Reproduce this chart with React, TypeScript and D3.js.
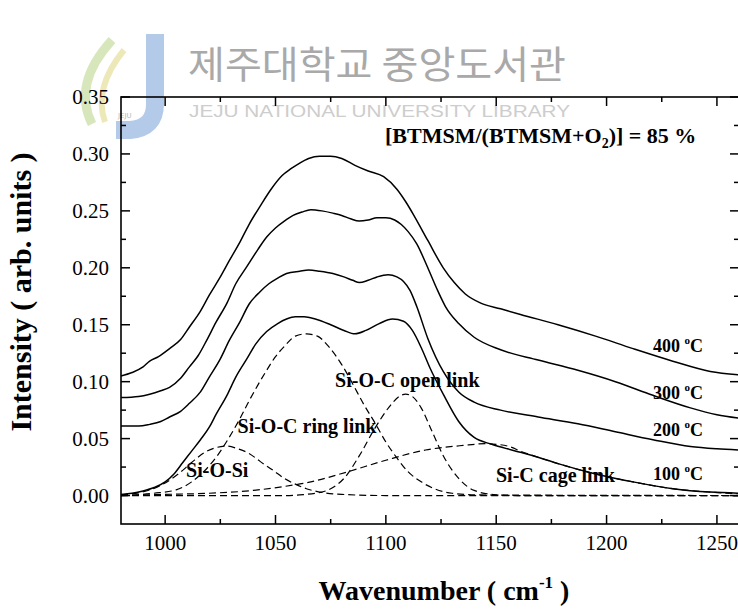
import React from 'react';
import * as d3 from 'd3';

const WIDTH = 738;
const HEIGHT = 610;

const X_DOMAIN: [number, number] = [980, 1260];
const Y_DOMAIN: [number, number] = [-0.025, 0.35];
const X_TICKS = [1000, 1050, 1100, 1150, 1200, 1250];
const X_MINOR = [1025, 1075, 1125, 1175, 1225];
const Y_TICKS = [0, 0.05, 0.1, 0.15, 0.2, 0.25, 0.3, 0.35];
const Y_MINOR = [0.025, 0.075, 0.125, 0.175, 0.225, 0.275, 0.325];

// Measured spectra [wavenumber, intensity]
const T400: [number, number][] = [[980,0.105],[985,0.108],[990,0.113],[993,0.118],[997,0.122],[1002,0.129],[1007,0.137],[1011,0.148],[1016,0.162],[1020,0.176],[1025,0.192],[1029,0.206],[1034,0.223],[1038,0.238],[1043,0.254],[1048,0.269],[1053,0.281],[1057,0.287],[1061,0.292],[1065,0.296],[1070,0.298],[1075,0.298],[1080,0.296],[1086,0.290],[1092,0.285],[1099,0.280],[1105,0.269],[1109,0.258],[1113,0.245],[1119,0.224],[1126,0.200],[1131,0.187],[1136,0.177],[1143,0.169],[1152,0.164],[1161,0.159],[1178,0.150],[1195,0.140],[1212,0.129],[1230,0.118],[1247,0.109],[1260,0.106]];
const T300: [number, number][] = [[980,0.086],[988,0.087],[993,0.089],[998,0.092],[1002,0.095],[1007,0.103],[1011,0.113],[1015,0.123],[1019,0.137],[1023,0.152],[1028,0.169],[1032,0.186],[1037,0.201],[1042,0.216],[1046,0.227],[1050,0.235],[1054,0.241],[1058,0.246],[1062,0.249],[1066,0.251],[1071,0.250],[1076,0.248],[1080,0.246],[1084,0.243],[1088,0.241],[1092,0.242],[1096,0.244],[1100,0.244],[1104,0.242],[1107,0.238],[1110,0.232],[1114,0.221],[1119,0.200],[1123,0.182],[1127,0.166],[1133,0.151],[1140,0.139],[1152,0.128],[1169,0.119],[1187,0.110],[1204,0.100],[1221,0.088],[1238,0.077],[1250,0.071],[1260,0.068]];
const T200: [number, number][] = [[980,0.061],[988,0.061],[993,0.0625],[998,0.065],[1002,0.069],[1007,0.074],[1011,0.081],[1016,0.091],[1020,0.104],[1025,0.120],[1029,0.136],[1034,0.153],[1038,0.168],[1043,0.179],[1047,0.186],[1051,0.191],[1055,0.195],[1061,0.197],[1065,0.198],[1070,0.197],[1076,0.195],[1081,0.192],[1085,0.189],[1088,0.187],[1092,0.189],[1096,0.192],[1101,0.194],[1105,0.192],[1108,0.188],[1111,0.180],[1114,0.166],[1119,0.138],[1126,0.109],[1133,0.091],[1140,0.082],[1152,0.075],[1169,0.069],[1187,0.063],[1204,0.056],[1221,0.049],[1238,0.043],[1250,0.041],[1260,0.040]];
const T100: [number, number][] = [[980,0.001],[985,0.002],[990,0.004],[995,0.007],[1000,0.012],[1004,0.019],[1008,0.029],[1012,0.039],[1016,0.049],[1020,0.060],[1023,0.071],[1028,0.088],[1032,0.104],[1037,0.120],[1041,0.133],[1046,0.144],[1051,0.151],[1055,0.155],[1059,0.157],[1063,0.157],[1068,0.155],[1075,0.150],[1081,0.145],[1086,0.142],[1091,0.145],[1097,0.151],[1103,0.155],[1108,0.153],[1112,0.145],[1116,0.130],[1120,0.112],[1126,0.089],[1133,0.065],[1140,0.051],[1148,0.045],[1155,0.041],[1161,0.038],[1170,0.033],[1178,0.028],[1195,0.019],[1212,0.012],[1230,0.006],[1247,0.003],[1260,0.002]];

// Deconvoluted components (dashed)
const SI_O_SI: [number, number][] = [[980,0.0005],[988,0.0024],[997,0.008],[1006,0.019],[1012,0.029],[1018,0.038],[1023,0.042],[1028,0.0435],[1033,0.041],[1038,0.037],[1043,0.030],[1049,0.022],[1054,0.015],[1059,0.010],[1064,0.006],[1069,0.0035],[1080,0.001],[1100,0],[1260,0]];
const RING: [number, number][] = [[980,0],[995,0.002],[1005,0.005],[1012,0.012],[1018,0.022],[1024,0.036],[1029,0.051],[1034,0.068],[1038,0.083],[1042,0.097],[1046,0.110],[1050,0.122],[1054,0.131],[1059,0.140],[1064,0.142],[1069,0.140],[1074,0.131],[1080,0.115],[1085,0.098],[1090,0.080],[1095,0.064],[1100,0.047],[1105,0.033],[1110,0.021],[1116,0.012],[1122,0.006],[1130,0.002],[1143,0.0005],[1260,0]];
const OPEN: [number, number][] = [[980,0],[1055,0],[1061,0.0006],[1071,0.003],[1076,0.007],[1081,0.015],[1088,0.035],[1095,0.059],[1102,0.079],[1106,0.087],[1109,0.089],[1112,0.087],[1116,0.077],[1121,0.056],[1126,0.035],[1133,0.015],[1140,0.0045],[1150,0.0006],[1160,0],[1260,0]];
const CAGE: [number, number][] = [[980,0],[1000,0.001],[1020,0.002],[1040,0.0045],[1054,0.008],[1066,0.012],[1083,0.021],[1100,0.031],[1118,0.040],[1135,0.044],[1145,0.0455],[1150,0.045],[1156,0.043],[1161,0.039],[1170,0.033],[1178,0.028],[1195,0.019],[1212,0.012],[1230,0.006],[1247,0.003],[1260,0.0015]];

const SOLID_SERIES = [T400, T300, T200, T100];
const DASHED_SERIES = [SI_O_SI, RING, OPEN, CAGE];

const COMPONENT_LABELS = ['Si-O-Si', 'Si-O-C ring link', 'Si-O-C open link', 'Si-C cage link'];
const COMPONENT_LABEL_POS: [number, number][] = [[1009.5, 0.0167], [1032.8, 0.0548], [1077, 0.0953], [1149.9, 0.0117]];
const TEMP_LABELS = ['400', '300', '200', '100'];
const TEMP_LABEL_POS: [number, number][] = [[1221, 0.126], [1221, 0.0844], [1221, 0.0525], [1221, 0.0138]];

const SERIF = '"Liberation Serif", "Times New Roman", Times, serif';

export default function App() {
  const left = 121, right = 739, top = 97, bottom = 524;
  const x = d3.scaleLinear().domain(X_DOMAIN).range([left, right]);
  const y = d3.scaleLinear().domain(Y_DOMAIN).range([bottom, top]);
  const line = d3.line<[number, number]>()
    .x(d => x(d[0]))
    .y(d => y(d[1]))
    .curve(d3.curveMonotoneX);

  return (
    <svg width={WIDTH} height={HEIGHT} style={{ position: 'absolute', left: 0, top: 0, background: '#fff' }}>
      {/* watermark */}
      <g>
        <path d="M 92 124 Q 72 84 112 40" fill="none" stroke="#d3e4b4" strokeWidth={9} opacity={0.9} />
        <path d="M 105 122 Q 93 88 124 50" fill="none" stroke="#ebe6b0" strokeWidth={6} opacity={0.9} />
        <path d="M 155 34 L 155 104 Q 155 128 130 130 L 116 130" fill="none" stroke="#b3cbe9" strokeWidth={18} />
        <text x={118} y={118} fontFamily="DejaVu Sans" fontSize={7} fill="#b8b8b8">JEJU</text>
        <text x={188} y={78} fontFamily='"Noto Sans CJK KR"' fontSize={38} fill="#a9a9a9" textLength={378} lengthAdjust="spacingAndGlyphs">제주대학교 중앙도서관</text>
        <text x={189} y={117} fontFamily='"Liberation Sans", Arial, sans-serif' fontSize={16} fill="#cdcdcd" textLength={381} lengthAdjust="spacingAndGlyphs">JEJU NATIONAL UNIVERSITY  LIBRARY</text>
      </g>

      {/* dashed components */}
      {DASHED_SERIES.map((s, i) => (
        <path key={'d' + i} d={line(s) || ''} fill="none" stroke="#000" strokeWidth={1.2} strokeDasharray="7,4" />
      ))}
      {/* spectra */}
      {SOLID_SERIES.map((s, i) => (
        <path key={'s' + i} d={line(s) || ''} fill="none" stroke="#000" strokeWidth={1.5} />
      ))}

      {/* frame */}
      <rect x={left} y={top} width={right - left} height={bottom - top} fill="none" stroke="#000" strokeWidth={1.6} />

      {/* x ticks */}
      {X_TICKS.map(t => (
        <g key={'xt' + t}>
          <line x1={x(t)} x2={x(t)} y1={bottom} y2={bottom - 9} stroke="#000" strokeWidth={1.5} />
          <line x1={x(t)} x2={x(t)} y1={top} y2={top + 9} stroke="#000" strokeWidth={1.5} />
          <text x={x(t)} y={bottom + 26} textAnchor="middle" fontFamily={SERIF} fontSize={21}>{t}</text>
        </g>
      ))}
      {X_MINOR.map(t => (
        <g key={'xm' + t}>
          <line x1={x(t)} x2={x(t)} y1={bottom} y2={bottom - 5} stroke="#000" strokeWidth={1.5} />
          <line x1={x(t)} x2={x(t)} y1={top} y2={top + 5} stroke="#000" strokeWidth={1.5} />
        </g>
      ))}
      {/* y ticks */}
      {Y_TICKS.map(t => (
        <g key={'yt' + t}>
          <line x1={left} x2={left + 9} y1={y(t)} y2={y(t)} stroke="#000" strokeWidth={1.5} />
          <line x1={right} x2={right - 9} y1={y(t)} y2={y(t)} stroke="#000" strokeWidth={1.5} />
          <text x={left - 12} y={y(t) + 7} textAnchor="end" fontFamily={SERIF} fontSize={21}>{t.toFixed(2)}</text>
        </g>
      ))}
      {Y_MINOR.map(t => (
        <g key={'ym' + t}>
          <line x1={left} x2={left + 5} y1={y(t)} y2={y(t)} stroke="#000" strokeWidth={1.5} />
          <line x1={right} x2={right - 5} y1={y(t)} y2={y(t)} stroke="#000" strokeWidth={1.5} />
        </g>
      ))}

      {/* component labels */}
      {COMPONENT_LABELS.map((l, i) => (
        <text key={'cl' + i} x={x(COMPONENT_LABEL_POS[i][0])} y={y(COMPONENT_LABEL_POS[i][1])} fontFamily={SERIF} fontWeight="bold" fontSize={20}>{l}</text>
      ))}
      {TEMP_LABELS.map((l, i) => (
        <text key={'tl' + i} x={x(TEMP_LABEL_POS[i][0])} y={y(TEMP_LABEL_POS[i][1])} fontFamily={SERIF} fontWeight="bold" fontSize={18}>
          {l + ' '}<tspan fontSize={11} dy={-8}>o</tspan><tspan dy={8}>C</tspan>
        </text>
      ))}

      {/* title */}
      <text x={385} y={143} fontFamily={SERIF} fontWeight="bold" fontSize={22}>
        [BTMSM/(BTMSM+O<tspan fontSize={14} dy={5}>2</tspan><tspan dy={-5}>)] = 85 %</tspan>
      </text>

      {/* axis titles */}
      <text x={444} y={600} textAnchor="middle" fontFamily={SERIF} fontWeight="bold" fontSize={28}>
        Wavenumber ( cm<tspan fontSize={17} dy={-12}>-1</tspan><tspan dy={12}> )</tspan>
      </text>
      <text transform="translate(31, 292) rotate(-90)" textAnchor="middle" fontFamily={SERIF} fontWeight="bold" fontSize={30}>
        Intensity ( arb. units )
      </text>
    </svg>
  );
}
